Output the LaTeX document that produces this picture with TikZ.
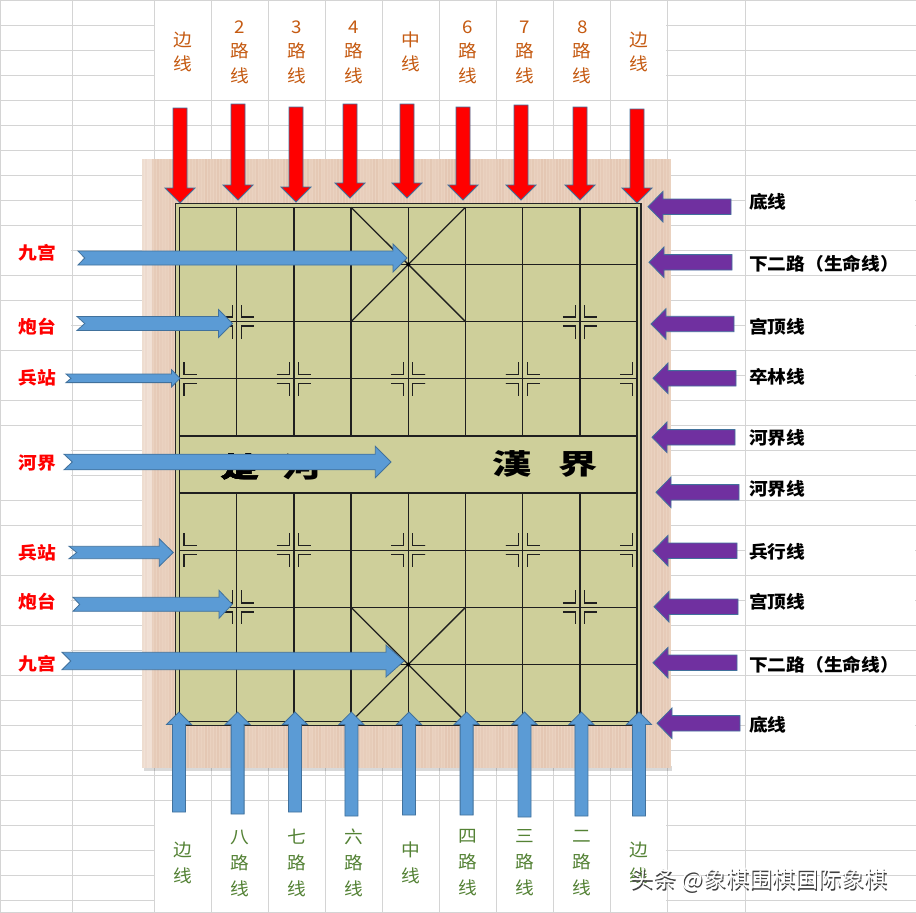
\documentclass[tikz,border=0pt]{standalone}
\usepackage{fontspec}
\setmainfont{Noto Sans CJK SC}
\usepackage{tikz}
\usetikzlibrary{calc}
\definecolor{mred}{RGB}{255,0,0}
\definecolor{mblue}{RGB}{91,155,213}
\definecolor{medge}{RGB}{65,113,156}
\definecolor{mpurple}{RGB}{112,48,160}
\definecolor{morange}{RGB}{197,90,17}
\definecolor{mgreen}{RGB}{84,130,53}
\definecolor{mcell}{RGB}{212,212,212}
\definecolor{mwood}{RGB}{234,210,192}
\definecolor{mgrain}{RGB}{212,170,146}
\definecolor{mboard}{RGB}{206,207,154}
\tikzset{cell/.style = {draw=mcell, line width=1}}
\tikzset{gridline/.style = {black!88, line width=1.3}}
\tikzset{markline/.style = {black!88, line width=1.3}}
\tikzset{redarrow/.style = {fill=mred, draw=medge, line width=0.8}}
\tikzset{bluearrow/.style = {fill=mblue, draw=medge, line width=0.8}}
\tikzset{purplearrow/.style = {fill=mpurple, draw=medge, line width=0.8}}
\tikzset{lbl/.style = {inner sep=0, xscale=1.07, align=center}}
\tikzset{toplabel/.style = {lbl, text=morange, font=\fontsize{17.5}{24.5}\selectfont}}
\tikzset{botlabel/.style = {lbl, text=mgreen, font=\fontsize{17.5}{26}\selectfont}}
\tikzset{leftlabel/.style = {lbl, text=mred, font=\fontsize{17.5}{20}\selectfont\bfseries}}
\tikzset{rightlabel/.style = {lbl, anchor=west, font=\fontsize{17.5}{20}\selectfont\bfseries}}
\tikzset{rivertext/.style = {inner sep=0, xscale=1.4, font=\fontsize{28}{28}\selectfont\bfseries}}

% block arrow: [style]{tail}{tip}{half shaft}{half head}{head length}{notch}
\newcommand{\blockarrow}[7][]{%
  \coordinate (ba-b) at ($(#3)!#6!(#2)$);
  \draw [#1] ($(#2)!#4!90:(#3)$) -- ($(ba-b)!#4!90:(#3)$)
             -- ($(ba-b)!#5!90:(#3)$) -- (#3)
             -- ($(ba-b)!#5!-90:(#3)$) -- ($(ba-b)!#4!-90:(#3)$)
             -- ($(#2)!#4!-90:(#3)$) -- ($(#2)!#7!(#3)$) -- cycle;}
% corner marks round a point
\newcommand{\pointmark}[2]{%
  \foreach \sx in {#2}
    \foreach \sy in {-1,1}
      \draw [markline] ($(#1)+(\sx*17,\sy*4.5)$) -- ($(#1)+(\sx*4.5,\sy*4.5)$)
                       -- ($(#1)+(\sx*4.5,\sy*17)$);}

\begin{document}
\begin{tikzpicture}[x=1pt, y=-1pt]
  \useasboundingbox (0,0) rectangle (916,913);
  \fill [white] (0,0) rectangle (916,913);

  % sheet cells
  \foreach \y in {0,25,...,900} \draw [cell] (0,\y) -- (916,\y);
  \draw [cell] (0,912) -- (916,912);
  \foreach \xa/\ya/\xb/\yb in {154/0/667/100, 154/812/667/913,
      0/225/72/275, 0/300/72/350, 0/350/72/400, 0/425/72/500,
      0/525/72/575, 0/575/72/625, 0/625/72/675,
      745/175/916/225, 745/300/916/350, 745/350/916/400,
      745/525/916/575, 745/575/916/625, 745/700/916/750}
    \fill [white] (\xa+0.6,\ya+0.6) rectangle (\xb-0.6,\yb-0.6);
  \foreach \x in {0,72,154,211,...,667,745} \draw [cell] (\x,0) -- (\x,913);

  % wooden frame
  \fill [black, opacity=0.15] (144,766) rectangle (672,771);
  \fill [mwood] (142,159) rectangle (671,768);
  \pgfmathsetseed{5}
  \foreach \x in {143,146,...,669} {
    \pgfmathsetmacro{\op}{0.05+0.22*rnd}
    \draw [mgrain, opacity=\op, line width=1.3] (\x,159) -- (\x,768);
  }
  \fill [white, opacity=0.35] (142,159) rectangle (152,768);

  % board
  \foreach \c in {0,...,8}
    \foreach \r in {0,...,9}
      \coordinate (g-\c-\r) at ({179.5+57.2*\c},{207.3+57.15*\r});
  \fill [mboard] (175.5,203.3) rectangle (641,725.3);
  \draw [black!85, line width=1.6] (175.5,203.3) rectangle (641,725.3);
  \foreach \r in {0,...,9} \draw [gridline] (g-0-\r) -- (g-8-\r);
  \draw [gridline] (g-0-0) -- (g-0-9);
  \draw [gridline] (g-8-0) -- (g-8-9);
  \foreach \c in {1,...,7} {
    \draw [gridline] (g-\c-0) -- (g-\c-4);
    \draw [gridline] (g-\c-5) -- (g-\c-9);
  }
  \draw [gridline] (g-3-0) -- (g-5-2);
  \draw [gridline] (g-5-0) -- (g-3-2);
  \draw [gridline] (g-3-7) -- (g-5-9);
  \draw [gridline] (g-5-7) -- (g-3-9);
  \fill (g-4-1) circle (2);
  \fill (g-4-8) circle (2);
  \foreach \c in {1,7} \foreach \r in {2,7} \pointmark{g-\c-\r}{-1,1}
  \foreach \c in {2,4,6} {
    \pointmark{g-\c-3}{-1,1}
    \pointmark{g-\c-6}{-1,1}
  }
  \pointmark{g-0-3}{1}
  \pointmark{g-0-6}{1}
  \pointmark{g-8-3}{-1}
  \pointmark{g-8-6}{-1}
  \node [rivertext] (chu) at (240,467) {楚};
  \node [rivertext] (he) at (302,467) {河};
  \node [rivertext] (han) at (512,464) {漢};
  \node [rivertext] (jie) at (578,464) {界};

  % files from the top
  \foreach \i/\t in {0/{边\\线}, 1/{2\\路\\线}, 2/{3\\路\\线}, 3/{4\\路\\线}, 4/{中\\线},
                     5/{6\\路\\线}, 6/{7\\路\\线}, 7/{8\\路\\线}, 8/{边\\线}}
    \node [toplabel] (tl-\i) at ({182.5+57.1*\i},52) {\t};
  \foreach \i/\x/\ya/\yb in {0/180/108/203, 1/238/104/200, 2/296/107/202,
      3/350/104/198, 4/407/104/198, 5/463/107/200, 6/521/105/200,
      7/580/107/200, 8/637/109/203} {
    \coordinate (rtail-\i) at (\x,\ya);
    \coordinate (rtip-\i) at (\x,\yb);
    \blockarrow[redarrow]{rtail-\i}{rtip-\i}{7pt}{15pt}{15pt}{0pt}
  }

  % files from the bottom
  \foreach \i/\t in {0/{边\\线}, 1/{八\\路\\线}, 2/{七\\路\\线}, 3/{六\\路\\线}, 4/{中\\线},
                     5/{四\\路\\线}, 6/{三\\路\\线}, 7/{二\\路\\线}, 8/{边\\线}}
    \node [botlabel] (bl-\i) at ({182.5+57.1*\i},863) {\t};
  \foreach \i/\x/\ya in {0/179/812, 1/237.6/814, 2/295/812, 3/351.4/816,
      4/409/815, 5/466.6/815, 6/524.5/817, 7/581.4/816, 8/639/816} {
    \coordinate (btail-\i) at (\x,\ya);
    \coordinate (btip-\i) at (\x,712);
    \blockarrow[bluearrow]{btail-\i}{btip-\i}{6.5pt}{12.5pt}{12.5pt}{0pt}
  }

  % ranks on the right
  \foreach \i/\y/\xa/\xb/\ly/\t in {0/206.7/648/731/201.5/底线,
      1/262.3/649/732/263.3/下二路（生命线）, 2/324/651/734/326.5/宫顶线,
      3/378.3/653/736/376.7/卒林线, 4/437.3/652/735/438.3/河界线,
      5/492.3/656/739/489/河界线, 6/550.7/653/737/551.5/兵行线,
      7/606.7/654/738/601.7/宫顶线, 8/662.7/653/737/665/下二路（生命线）,
      9/723.3/657/740/725/底线} {
    \coordinate (ptail-\i) at (\xb,\y);
    \coordinate (ptip-\i) at (\xa,\y);
    \blockarrow[purplearrow]{ptail-\i}{ptip-\i}{7.7pt}{15.3pt}{15pt}{0pt}
    \node [rightlabel] (rl-\i) at (749,\ly) {\t};
  }

  % points on the left
  \foreach \i/\ly/\t in {0/252.5/九宫, 1/326.5/炮台, 2/377.5/兵站, 3/463.3/河界,
      4/552.5/兵站, 5/601.7/炮台, 6/663.3/九宫}
    \node [leftlabel] (ll-\i) at (37,\ly) {\t};
  \foreach \i/\xa/\xb/\y/\s/\h/\l/\n in {0/78/407/258/7/14/14/6.7,
      1/77/232.5/323.5/7/14/14/7.7, 2/66/180/378.3/4.3/8.7/8.5/5,
      3/64/391/462/7.8/15.7/15.7/8.3, 4/69/173.3/552.5/6.2/13.7/14/7.7,
      5/73/232.3/604.3/7/14/13.3/6.7, 6/62/404/661/8.7/16/18/8.7} {
    \coordinate (ltail-\i) at (\xa,\y);
    \coordinate (ltip-\i) at (\xb,\y);
    \blockarrow[bluearrow]{ltail-\i}{ltip-\i}{\s pt}{\h pt}{\l pt}{\n pt}
  }

  % watermark
  \node [anchor=west, inner sep=0, black!75, font=\fontsize{23}{23}\selectfont]
    (wm-shadow) at (631.5,881.5) {头条 @象棋围棋国际象棋};
  \node [anchor=west, inner sep=0, white, font=\fontsize{23}{23}\selectfont]
    (wm) at (630,880) {头条 @象棋围棋国际象棋};
\end{tikzpicture}
\end{document}
